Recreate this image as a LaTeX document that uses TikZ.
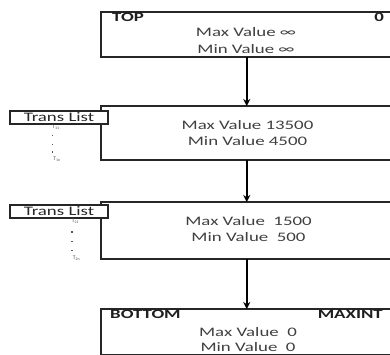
\documentclass[tikz,border=0pt]{standalone}
\usepackage{fontspec}
\newfontfamily\cf[FakeStretch=1.45]{Carlito}
\newfontfamily\cfsmall{Carlito}
\usetikzlibrary{arrows.meta}
\begin{document}
\begin{tikzpicture}[x=1pt,y=-1pt,
  bigbox/.style={draw=black!85,line width=1.6pt,fill=white,minimum width=291.5pt,inner sep=0pt,outer sep=0pt},
  tbox/.style={draw=black!85,line width=1.4pt,fill=white,minimum width=98pt,minimum height=13pt,inner sep=0pt,outer sep=0pt,font=\cf\fontsize{13}{14}\selectfont,text=black!85},
  val/.style={anchor=base,font=\cf\fontsize{13}{16}\selectfont,text=black!75,inner sep=0pt},
  lab/.style={anchor=base,font=\cf\bfseries\fontsize{13}{16}\selectfont,text=black!88,inner sep=0pt},
  tiny/.style={font=\cfsmall\fontsize{5.5}{6}\selectfont,text=black!70,inner sep=0pt},
  dot/.style={rectangle,fill=black!65,inner sep=0pt,minimum size=1.3pt},
  arr/.style={draw=black,line width=1.6pt,-{Stealth[length=7pt,width=7pt]}}]
\useasboundingbox (0,0) rectangle (390,354);
\clip (0,0) rectangle (390,354);
% big boxes
\node[bigbox,minimum height=45pt] (b1) at (246.75,34.5) {};
\node[bigbox,minimum height=54pt] (b2) at (246.75,133) {};
\node[bigbox,minimum height=57pt] (b3) at (246.75,230.5) {};
\node[bigbox,minimum height=45.5pt] (b4) at (246.75,331.75) {};
% arrows
\draw[arr] (b1.south) -- (b2.north);
\draw[arr] (b2.south) -- (b3.north);
\draw[arr] (b3.south) -- (b4.north);
% box 1 texts
\node[lab,anchor=base west] (top) at (112,21.5) {TOP};
\node[lab,anchor=base east] (zero) at (384,21.5) {0};
\node[val] (max1) at (246,36.5) {Max Value ∞};
\node[val] (min1) at (246,53.5) {Min Value ∞};
% box 2 texts
\node[val] (max2) at (247.5,129) {Max Value 13500};
\node[val] (min2) at (247.5,145) {Min Value 4500};
% box 3 texts
\node[val] (max3) at (248.5,225.5) {Max Value\ \ 1500};
\node[val] (min3) at (248.5,241) {Min Value\ \ 500};
% box 4 texts
\node[lab,anchor=base west] (bot) at (110,318) {BOTTOM};
\node[lab,anchor=base east] (maxint) at (383,318) {MAXINT};
\node[val] (max4) at (248,336) {Max Value\ \ 0};
\node[val] (min4) at (248,351.5) {Min Value\ \ 0};
% trans lists
\node[tbox] (t1) at (59,117.5) {Trans List};
\node[tiny] (t11) at (56,127.5) {T\textsubscript{11}};
\node[dot] (d11) at (52.5,135.5) {};
\node[dot] (d12) at (52.5,144.5) {};
\node[dot] (d13) at (52.5,152) {};
\node[tiny] (t1n) at (57,159.5) {T\textsubscript{1n}};
\node[tbox] (t2) at (59,211.5) {Trans List};
\node[tiny] (t21) at (75.5,221.5) {T\textsubscript{21}};
\node[dot] (d21) at (72,232) {};
\node[dot] (d22) at (72,241.5) {};
\node[dot] (d23) at (72,250.5) {};
\node[tiny] (t2n) at (76.5,258.5) {T\textsubscript{2n}};
\end{tikzpicture}
\end{document}
